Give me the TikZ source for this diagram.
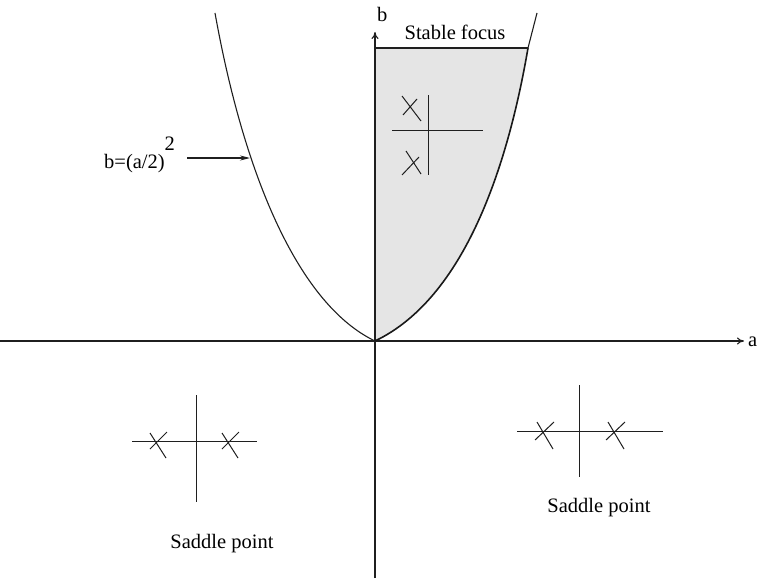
\documentclass[tikz,border=0pt]{standalone}
\usepackage{fontspec}
\setmainfont{Liberation Serif}
\usetikzlibrary{arrows.meta}
\tikzset{
  ln/.style={line width=1.1pt, draw=black!88},
  thick ln/.style={line width=1.6pt, draw=black!90},
  axisarrow/.style={ln, -{To[length=7pt,width=7pt]}},
  lblarrow/.style={ln, -{Stealth[length=10pt,width=5pt]}},
  lbl/.style={font=\fontsize{20.5}{24}\selectfont, inner sep=0pt},
  xmark/.style={line width=1pt, draw=black!88},
}
\begin{document}
\begin{tikzpicture}[x=1pt,y=-1pt]
\useasboundingbox (0,0) rectangle (757,578);
% shaded region
\fill[black!10] (375,48) -- (528,48) .. controls (508,165) and (465,298) .. (375,341) -- cycle;
% axes
\coordinate (O) at (375,341);
\coordinate (xs) at (0,341);
\coordinate (xe) at (744,341);
\coordinate (ys) at (375,578);
\coordinate (ye) at (375,32);
\draw[axisarrow] (xs) -- (xe);
\draw[axisarrow] (ys) -- (ye);
\node[lbl, anchor=base west] (alab) at (748,346) {a};
\node[lbl, anchor=base west] (blab) at (377,22) {b};
% parabola
\coordinate (ltop) at (215,13);
\coordinate (rtop) at (537,13);
\coordinate (rmid) at (528,48);
\draw[ln] (ltop) .. controls (245,180) and (300,305) .. (O);
\draw[thick ln] (O) .. controls (465,298) and (508,165) .. (rmid);
\draw[ln] (rmid) -- (rtop);
% stable focus top line
\coordinate (tl) at (375,48);
\draw[ln] (tl) -- (rmid);
\node[lbl, anchor=base] (sf) at (455,40) {Stable focus};
% focus pole diagram
\coordinate (fv1) at (428,95);
\coordinate (fv2) at (428,175);
\coordinate (fh1) at (392,130);
\coordinate (fh2) at (483,130);
\draw[xmark] (fv1) -- (fv2);
\draw[xmark] (fh1) -- (fh2);
\draw[xmark] (402,96) -- (421,121);
\draw[xmark] (403,115) -- (417,99);
\draw[xmark] (406,151) -- (421,174);
\draw[xmark] (402,175) -- (419,157);
% label b=(a/2)^2
\node[lbl, anchor=base west] (eq) at (104,168) {b=(a/2)\raisebox{18pt}{2}};
\coordinate (eqs) at (187,158);
\coordinate (eqe) at (250,158);
\draw[lblarrow] (eqs) -- (eqe);
% left saddle
\coordinate (lh1) at (132,441);
\coordinate (lh2) at (257,441);
\coordinate (lv1) at (196,395);
\coordinate (lv2) at (196,502);
\draw[xmark] (lh1) -- (lh2);
\draw[xmark] (lv1) -- (lv2);
\draw[xmark] (150,433) -- (166,458);
\draw[xmark] (150,449) -- (167,432);
\draw[xmark] (222,433) -- (238,458);
\draw[xmark] (222,449) -- (239,432);
\node[lbl, anchor=base] (lsp) at (222,548) {Saddle point};
% right saddle
\coordinate (rh1) at (517,431);
\coordinate (rh2) at (663,431);
\coordinate (rv1) at (579,385);
\coordinate (rv2) at (579,477);
\draw[xmark] (rh1) -- (rh2);
\draw[xmark] (rv1) -- (rv2);
\draw[xmark] (537,422) -- (553,449);
\draw[xmark] (535,440) -- (554,422);
\draw[xmark] (608,422) -- (624,449);
\draw[xmark] (606,440) -- (625,422);
\node[lbl, anchor=base] (rsp) at (599,512) {Saddle point};
\end{tikzpicture}
\end{document}
